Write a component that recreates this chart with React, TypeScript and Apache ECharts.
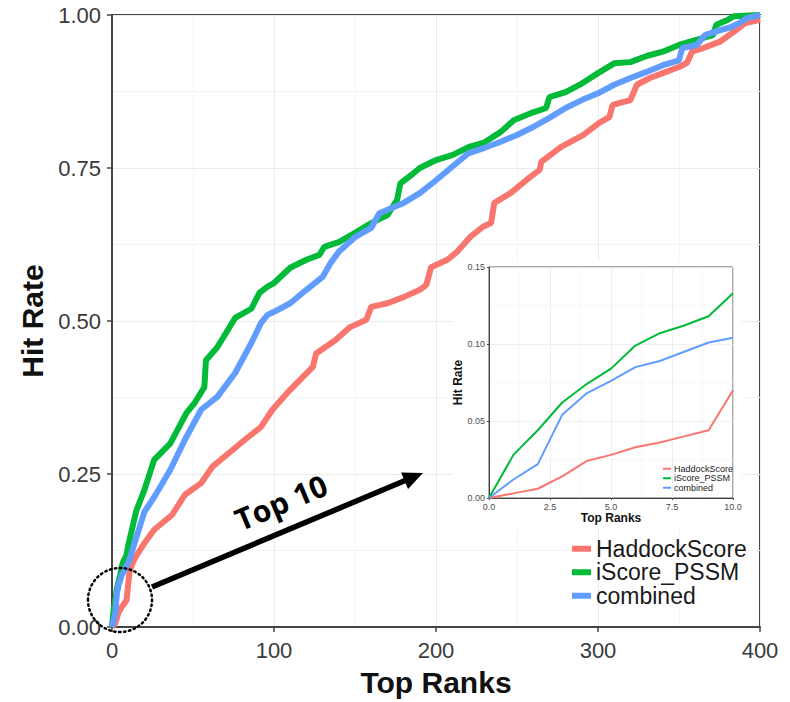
import React, { useEffect, useRef } from "react";
import * as echarts from "echarts";

// ---- Data ----
const seriesNames = ["HaddockScore", "iScore_PSSM", "combined"];
const seriesColors = ["#F8766D", "#00BA38", "#619CFF"];

const haddockRanks = [0,1,2,3,4,5,6,7,8,9,10,11,14,20,26,37,45,55,62,72,82,92,99,108,118,124,126,138,147,157,160,170,180,190,194,197,207,213,221,229,234,236,246,258,264,265,277,291,301,307,309,320,324,332,340,350,355,358,365,375,383,391,400];
const haddockRates = [0,0.003,0.006,0.014,0.024,0.028,0.033,0.036,0.040,0.044,0.070,0.093,0.112,0.137,0.159,0.183,0.216,0.235,0.262,0.284,0.306,0.327,0.355,0.382,0.409,0.425,0.447,0.469,0.49,0.502,0.523,0.529,0.539,0.551,0.559,0.588,0.6,0.613,0.637,0.654,0.66,0.693,0.709,0.735,0.747,0.76,0.784,0.804,0.824,0.833,0.853,0.861,0.886,0.897,0.905,0.915,0.922,0.94,0.946,0.956,0.971,0.987,0.992];

const iscoreRanks = [0,1,2,3,4,5,6,7,8,9,10,15,20,26,36,46,51,57,58,65,76,86,91,96,100,110,120,128,131,140,150,160,170,176,178,185,190,200,210,220,230,240,248,260,268,270,280,290,300,310,320,330,340,350,360,371,373,380,384,400];
const iscoreRates = [0,0.028,0.044,0.062,0.074,0.084,0.099,0.107,0.112,0.118,0.133,0.19,0.224,0.273,0.30,0.35,0.366,0.392,0.436,0.457,0.505,0.52,0.546,0.556,0.562,0.587,0.6,0.608,0.621,0.629,0.644,0.66,0.673,0.698,0.725,0.739,0.75,0.763,0.771,0.784,0.792,0.809,0.828,0.841,0.848,0.866,0.874,0.888,0.905,0.921,0.923,0.933,0.94,0.951,0.959,0.967,0.984,0.992,0.998,1.0];

const combinedRanks = [0,1,2,3,4,5,6,7,8,9,10,20,26,36,45,55,65,76,86,92,96,100,110,120,130,135,140,150,160,165,180,190,200,210,220,230,240,250,260,270,280,290,300,310,320,330,340,350,352,361,366,375,382,388,392,400];
const combinedRates = [0,0.012,0.022,0.054,0.068,0.076,0.085,0.089,0.095,0.101,0.104,0.188,0.212,0.257,0.306,0.355,0.376,0.415,0.464,0.497,0.51,0.515,0.529,0.551,0.572,0.595,0.613,0.637,0.652,0.676,0.693,0.709,0.73,0.752,0.774,0.783,0.793,0.804,0.817,0.832,0.848,0.861,0.872,0.886,0.897,0.907,0.918,0.926,0.946,0.951,0.967,0.975,0.98,0.988,0.995,1.0];

// Inset (top 10)
const insetRanks = [0,1,2,3,4,5,6,7,8,9,10];
const haddockTop10 = [0,0.003,0.006,0.014,0.024,0.028,0.033,0.036,0.040,0.044,0.070];
const iscoreTop10 = [0,0.028,0.044,0.062,0.074,0.084,0.099,0.107,0.112,0.118,0.133];
const combinedTop10 = [0,0.012,0.022,0.054,0.068,0.076,0.085,0.089,0.095,0.101,0.104];

const annotationText = "Top 10";

const FONT = "'Liberation Sans', Arial, Helvetica, sans-serif";

function pairs(xs: number[], ys: number[]) {
  return xs.map((x, i) => [x, ys[i]]);
}

export default function App() {
  const ref = useRef<HTMLDivElement>(null);
  useEffect(() => {
    document.body.style.margin = "0";
    const chart = echarts.init(ref.current!, null, { renderer: "svg" });

    const mainData = [
      pairs(haddockRanks, haddockRates),
      pairs(iscoreRanks, iscoreRates),
      pairs(combinedRanks, combinedRates),
    ];
    const insetData = [
      pairs(insetRanks, haddockTop10),
      pairs(insetRanks, iscoreTop10),
      pairs(insetRanks, combinedTop10),
    ];

    // arrow geometry
    const ax0 = 152, ay0 = 587, ax1 = 423, ay1 = 473;
    const dx = ax1 - ax0, dy = ay1 - ay0;
    const len = Math.sqrt(dx * dx + dy * dy);
    const ux = dx / len, uy = dy / len;
    const px = -uy, py = ux;
    const headL = 20, headW = 9;
    const bx = ax1 - ux * headL, by = ay1 - uy * headL;

    const axisLineMain = { show: true, lineStyle: { color: "#444", width: 2 } };
    const tickMain = { show: true, length: 5, lineStyle: { color: "#444", width: 1.5 } };

    const option: any = {
      animation: false,
      backgroundColor: "#fff",
      grid: [
        { left: 112, top: 15, width: 648, height: 612, show: true, borderColor: "#444", borderWidth: 2, backgroundColor: "transparent", z: 0 },
        { left: 489, top: 267, width: 244, height: 231, show: true, borderColor: "#555", borderWidth: 1, backgroundColor: "transparent", z: 8 },
      ],
      xAxis: [
        {
          gridIndex: 0, type: "value", min: 0, max: 400, interval: 100,
          axisLine: axisLineMain, axisTick: tickMain,
          axisLabel: { fontSize: 22, color: "#3a3a3a", fontFamily: FONT, margin: 12 },
          splitLine: { show: true, lineStyle: { color: "#ebebeb", width: 1 } },
          minorTick: { show: false, splitNumber: 2 },
          minorSplitLine: { show: true, lineStyle: { color: "#f4f4f4", width: 1 } },
          name: "Top Ranks", nameLocation: "middle", nameGap: 40,
          nameTextStyle: { fontSize: 30, fontWeight: "bold", color: "#111", fontFamily: FONT },
        },
        {
          gridIndex: 1, type: "value", min: 0, max: 10, interval: 2.5, z: 8,
          axisLine: { show: true, lineStyle: { color: "#444", width: 1 } },
          axisTick: { show: true, length: 2, lineStyle: { color: "#444" } },
          axisLabel: { fontSize: 9, color: "#4d4d4d", fontFamily: FONT, margin: 4, formatter: (v: number) => v.toFixed(1) },
          splitLine: { show: true, lineStyle: { color: "#ebebeb", width: 0.8 } },
          minorTick: { show: false, splitNumber: 2 },
          minorSplitLine: { show: true, lineStyle: { color: "#f4f4f4", width: 0.6 } },
          name: "Top Ranks", nameLocation: "middle", nameGap: 14,
          nameTextStyle: { fontSize: 12, fontWeight: "bold", color: "#111", fontFamily: FONT },
        },
      ],
      yAxis: [
        {
          gridIndex: 0, type: "value", min: 0, max: 1, interval: 0.25,
          axisLine: axisLineMain, axisTick: tickMain,
          axisLabel: { fontSize: 22, color: "#3a3a3a", fontFamily: FONT, margin: 11, formatter: (v: number) => v.toFixed(2) },
          splitLine: { show: true, lineStyle: { color: "#ebebeb", width: 1 } },
          minorTick: { show: false, splitNumber: 2 },
          minorSplitLine: { show: true, lineStyle: { color: "#f4f4f4", width: 1 } },
          name: "Hit Rate", nameLocation: "middle", nameGap: 60,
          nameTextStyle: { fontSize: 30, fontWeight: "bold", color: "#111", fontFamily: FONT },
        },
        {
          gridIndex: 1, type: "value", min: 0, max: 0.15, interval: 0.05, z: 8,
          axisLine: { show: true, lineStyle: { color: "#444", width: 1 } },
          axisTick: { show: true, length: 2, lineStyle: { color: "#444" } },
          axisLabel: { fontSize: 9, color: "#4d4d4d", fontFamily: FONT, margin: 4, formatter: (v: number) => v.toFixed(2) },
          splitLine: { show: true, lineStyle: { color: "#ebebeb", width: 0.8 } },
          minorTick: { show: false, splitNumber: 2 },
          minorSplitLine: { show: true, lineStyle: { color: "#f4f4f4", width: 0.6 } },
          name: "Hit Rate", nameLocation: "middle", nameGap: 22,
          nameTextStyle: { fontSize: 12, fontWeight: "bold", color: "#111", fontFamily: FONT },
        },
      ],
      legend: [
        {
          data: seriesNames, orient: "vertical", left: 567, top: 532, padding: 5,
          icon: "rect", itemWidth: 19, itemHeight: 6, itemGap: 0,
          textStyle: { fontSize: 23, lineHeight: 23.5, color: "#1a1a1a", fontFamily: FONT },
          selectedMode: false,
        },
        {
          data: seriesNames, orient: "vertical", left: 658, top: 459, z: 9,
          icon: "rect", itemWidth: 8, itemHeight: 2, itemGap: 0,
          textStyle: { fontSize: 9, lineHeight: 9.5, color: "#1a1a1a", fontFamily: FONT, padding: [0, 0, 0, -2] },
          selectedMode: false,
        },
      ],
      series: [
        ...mainData.map((d, i) => ({
          type: "line", name: seriesNames[i], xAxisIndex: 0, yAxisIndex: 0,
          data: d, showSymbol: false, z: 2 + i * 0.1, clip: false,
          lineStyle: { color: seriesColors[i], width: 6 }, itemStyle: { color: seriesColors[i] },
        })),
        ...insetData.map((d, i) => ({
          type: "line", name: seriesNames[i], xAxisIndex: 1, yAxisIndex: 1,
          data: d, showSymbol: false, z: 9,
          lineStyle: { color: seriesColors[i], width: 2 }, itemStyle: { color: seriesColors[i] },
        })),
      ],
      graphic: [
        { type: "rect", z: 6, shape: { x: 452, y: 261, width: 290, height: 268 }, style: { fill: "#fff" } },
        { type: "ellipse", z: 20, shape: { cx: 120, cy: 600, rx: 32, ry: 32 }, style: { fill: "none", stroke: "#000", lineWidth: 2.5, lineDash: [1.5, 3.5], lineCap: "round" } },
        { type: "line", z: 20, shape: { x1: ax0, y1: ay0, x2: bx + ux * 2, y2: by + uy * 2 }, style: { stroke: "#000", lineWidth: 5.5 } },
        { type: "polygon", z: 20, shape: { points: [[ax1, ay1], [bx + px * headW, by + py * headW], [bx - px * headW, by - py * headW]] }, style: { fill: "#000" } },
        {
          type: "text", z: 20, x: 281, y: 502, rotation: Math.atan2(-dy, dx),
          style: { text: annotationText, fontSize: 30, fontWeight: "bold", fill: "#000", fontFamily: "'Open Sans', 'Liberation Sans', sans-serif", align: "center", verticalAlign: "middle" },
        },
      ],
    };
    chart.setOption(option);
    return () => chart.dispose();
  }, []);
  return <div ref={ref} style={{ position: "fixed", left: 0, top: 0, width: 790, height: 702 }} />;
}
